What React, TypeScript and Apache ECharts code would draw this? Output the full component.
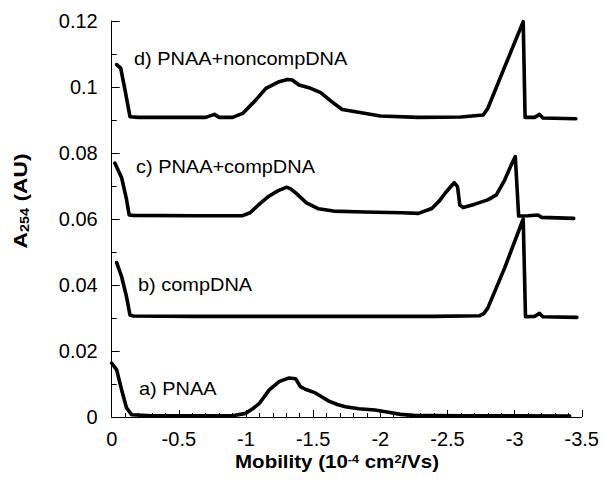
import React, { useEffect, useRef } from "react";
import * as echarts from "echarts";

// Trace a) PNAA
const aX = [0, -0.037, -0.074, -0.11, -0.148, -0.3, -0.6, -0.9, -0.998, -1.05, -1.099, -1.173, -1.247, -1.29, -1.321, -1.37, -1.405, -1.442, -1.516, -1.56, -1.617, -1.68, -1.74, -1.84, -1.96, -2.05, -2.15, -2.25, -2.6, -3.0, -3.41];
const aY = [0.0163, 0.0143, 0.0082, 0.0028, 0.0007, 0.0004, 0.0004, 0.0004, 0.0011, 0.0025, 0.0041, 0.0082, 0.0107, 0.0114, 0.0118, 0.0116, 0.0092, 0.0084, 0.0073, 0.0062, 0.0048, 0.0038, 0.0031, 0.0025, 0.0021, 0.0015, 0.0008, 0.0005, 0.0004, 0.0004, 0.0003];

// Trace b) compDNA
const bX = [-0.037, -0.074, -0.11, -0.136, -0.16, -0.6, -1.2, -1.8, -2.4, -2.74, -2.77, -2.8, -2.926, -3.064, -3.081, -3.15, -3.185, -3.21, -3.464];
const bY = [0.0468, 0.0425, 0.0365, 0.0309, 0.0306, 0.0305, 0.0305, 0.0305, 0.0305, 0.0307, 0.0313, 0.033, 0.0452, 0.06, 0.0304, 0.0305, 0.0314, 0.0304, 0.0302];

// Trace c) PNAA+compDNA
const cX = [-0.024, -0.074, -0.11, -0.13, -0.16, -0.6, -0.975, -1.03, -1.11, -1.17, -1.24, -1.3, -1.33, -1.37, -1.45, -1.54, -1.65, -1.88, -2.16, -2.284, -2.383, -2.44, -2.482, -2.55, -2.575, -2.592, -2.617, -2.704, -2.8, -2.864, -2.926, -2.975, -3.005, -3.03, -3.1, -3.173, -3.2, -3.44];
const cY = [0.0769, 0.0725, 0.066, 0.0612, 0.0611, 0.061, 0.061, 0.0619, 0.0649, 0.0669, 0.0686, 0.0696, 0.0692, 0.0679, 0.0649, 0.0631, 0.0624, 0.0621, 0.0619, 0.0617, 0.0632, 0.0655, 0.0678, 0.071, 0.0698, 0.0642, 0.0635, 0.0645, 0.0658, 0.0673, 0.0718, 0.0764, 0.0789, 0.0609, 0.061, 0.0612, 0.0605, 0.0602];

// Trace d) PNAA+noncompDNA
const dX = [-0.037, -0.067, -0.099, -0.136, -0.2, -0.7, -0.765, -0.8, -0.9, -0.975, -1.074, -1.148, -1.247, -1.308, -1.345, -1.395, -1.469, -1.556, -1.64, -1.716, -1.827, -2.0, -2.284, -2.6, -2.766, -2.8, -2.926, -3.064, -3.078, -3.15, -3.185, -3.21, -3.456];
const dY = [0.1068, 0.1057, 0.0991, 0.091, 0.0908, 0.0908, 0.0917, 0.0908, 0.0908, 0.092, 0.0961, 0.0996, 0.1016, 0.1023, 0.1021, 0.1006, 0.0998, 0.0983, 0.0955, 0.0932, 0.0924, 0.0912, 0.0908, 0.0909, 0.0915, 0.0935, 0.1061, 0.1198, 0.0908, 0.0908, 0.0917, 0.0906, 0.0904];

const traceLabels = ["a) PNAA", "b) compDNA", "c) PNAA+compDNA", "d) PNAA+noncompDNA"];
const labelAnchors = [
  { x: 139, y: 388 },
  { x: 138, y: 284 },
  { x: 136, y: 166 },
  { x: 134, y: 58 },
];

const xTitle = "{n|Mobility (10}{s|-4}{n| cm}{s|2}{n|/Vs)}";
const yTitle = "{n|A}{s|254}{n| (AU)}";

const FONT = "'Liberation Sans', Arial, sans-serif";

function zip(xs: number[], ys: number[]) {
  return xs.map((x, i) => [x, ys[i]]);
}

export default function App() {
  const ref = useRef<HTMLDivElement>(null);
  useEffect(() => {
    if (!ref.current) return;
    const chart = echarts.init(ref.current, undefined, { renderer: "svg" });
    const series = [zip(aX, aY), zip(bX, bY), zip(cX, cY), zip(dX, dY)].map((d) => ({
      type: "line",
      data: d,
      showSymbol: false,
      smooth: false,
      lineStyle: { color: "#000", width: 3.6, join: "round", cap: "round" },
      z: 3,
    }));
    chart.setOption({
      animation: false,
      backgroundColor: "#fff",
      grid: { left: 111.7, right: 19, top: 21, bottom: 64, containLabel: false },
      xAxis: {
        type: "value",
        min: -3.5,
        max: 0,
        interval: 0.5,
        inverse: true,
        axisLine: { show: true, onZero: false, lineStyle: { color: "#000", width: 1 } },
        axisTick: { show: true, inside: true, length: 7, lineStyle: { color: "#000" } },
        minorTick: { show: true, splitNumber: 5, length: 4, lineStyle: { color: "#000" } },
        splitLine: { show: false },
        axisLabel: {
          color: "#000",
          fontSize: 20,
          fontFamily: FONT,
          margin: 12,
          formatter: (v: number) => (v === 0 ? "0" : String(+v.toFixed(2))),
        },
      },
      yAxis: {
        type: "value",
        min: 0,
        max: 0.12,
        interval: 0.02,
        axisLine: { show: true, lineStyle: { color: "#000", width: 1 } },
        axisTick: { show: true, inside: true, length: 8, lineStyle: { color: "#000" } },
        minorTick: { show: true, splitNumber: 2, length: 5, lineStyle: { color: "#000" } },
        splitLine: { show: false },
        axisLabel: {
          color: "#000",
          fontSize: 20,
          fontFamily: FONT,
          margin: 14,
          formatter: (v: number) => String(+v.toFixed(2)),
        },
      },
      series,
      graphic: [
        ...traceLabels.map((t, i) => ({
          type: "text",
          x: labelAnchors[i].x,
          y: labelAnchors[i].y,
          scaleX: 1.05,
          style: {
            text: t,
            fontSize: 19,
            fontFamily: FONT,
            fill: "#000",
            textAlign: "left",
            textVerticalAlign: "middle",
          },
          z: 10,
        })),
        {
          type: "text",
          x: 337,
          y: 461,
          scaleX: 1.14,
          style: {
            text: xTitle,
            textAlign: "center",
            textVerticalAlign: "middle",
            fill: "#000",
            rich: {
              n: { fontSize: 18, fontWeight: "bold", fontFamily: FONT, lineHeight: 20, verticalAlign: "bottom", fill: "#000" },
              s: { fontSize: 11, fontWeight: "bold", fontFamily: FONT, lineHeight: 11, padding: [2, 0, 0, 0], verticalAlign: "top", fill: "#000" },
            },
          },
          z: 10,
        },
        {
          type: "text",
          x: 21,
          y: 201,
          rotation: Math.PI / 2,
          scaleX: 1.2,
          style: {
            text: yTitle,
            textAlign: "center",
            textVerticalAlign: "middle",
            fill: "#000",
            rich: {
              n: { fontSize: 19, fontWeight: "bold", fontFamily: FONT, lineHeight: 20, verticalAlign: "top", fill: "#000" },
              s: { fontSize: 12, fontWeight: "bold", fontFamily: FONT, lineHeight: 12, padding: [14, 0, 0, 0], verticalAlign: "bottom", fill: "#000" },
            },
          },
          z: 10,
        },
      ],
    });
    return () => chart.dispose();
  }, []);
  return <div ref={ref} style={{ position: "absolute", left: 0, top: 0, width: 602, height: 481 }} />;
}
